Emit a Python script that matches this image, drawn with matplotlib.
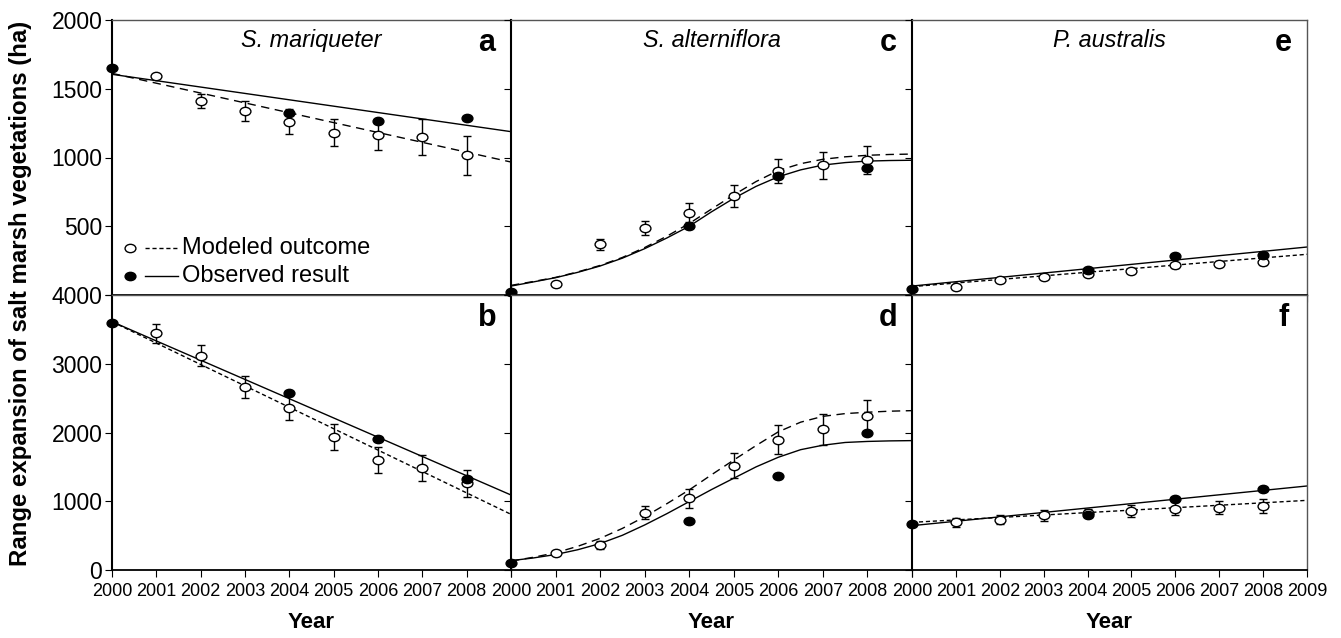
import numpy as np
import matplotlib
matplotlib.use("Agg")
import matplotlib.pyplot as plt
from matplotlib.path import Path
from matplotlib.transforms import Affine2D

plt.rcParams['font.family'] = ['Liberation Sans', 'DejaVu Sans']

# ---------------- data ----------------
years_obs = [2000, 2004, 2006, 2008]
years_mod = [2001, 2002, 2003, 2004, 2005, 2006, 2007, 2008]
years_lin = [2000, 2009]
years_half = [2000, 2000.5, 2001, 2001.5, 2002, 2002.5, 2003, 2003.5, 2004, 2004.5,
              2005, 2005.5, 2006, 2006.5, 2007, 2007.5, 2008, 2008.5, 2009]
xtick_years = [2000, 2001, 2002, 2003, 2004, 2005, 2006, 2007, 2008, 2009]

# a: S. mariqueter (upper)
a_obs = [1653, 1326, 1263, 1285]
a_mod = [1593, 1411, 1338, 1261, 1181, 1166, 1149, 1016]
a_err = [15, 50, 75, 90, 100, 110, 130, 140]
a_fit_obs = [1605, 1188]
a_fit_mod = [1612, 967]

# b: S. mariqueter (lower)
b_obs = [3588, 2570, 1905, 1328]
b_mod = [3442, 3117, 2662, 2356, 1934, 1600, 1479, 1260]
b_err = [140, 155, 165, 175, 185, 190, 190, 195]
b_fit_obs = [3612, 1091]
b_fit_mod = [3612, 810]

# c: S. alterniflora (upper)
c_obs = [24, 499, 865, 926]
c_mod = [78, 368, 490, 599, 720, 902, 943, 982]
c_err = [12, 40, 50, 68, 77, 85, 98, 103]
c_fit_obs = [65, 95, 126, 165, 211, 268, 337, 415, 500, 605, 703, 790, 860, 910, 945, 963, 974, 978, 980]
c_fit_mod = [70, 98, 128, 168, 215, 273, 345, 428, 520, 625, 728, 825, 905, 955, 987, 1005, 1016, 1022, 1025]

# d: S. alterniflora (lower)
d_obs = [107, 718, 1372, 1988]
d_mod = [242, 364, 834, 1042, 1517, 1896, 2046, 2240]
d_err = [25, 65, 95, 140, 185, 210, 230, 240]
d_fit_obs = [136, 175, 225, 295, 385, 505, 655, 820, 995, 1170, 1335, 1500, 1640, 1750, 1815, 1855, 1870, 1878, 1882]
d_fit_mod = [130, 185, 250, 345, 460, 605, 775, 965, 1165, 1385, 1600, 1810, 2010, 2150, 2235, 2275, 2295, 2310, 2318]

# e: P. australis (upper)
e_obs = [41, 182, 284, 288]
e_mod = [58, 107, 133, 150, 175, 218, 228, 242]
e_err = [10, 12, 14, 15, 16, 18, 20, 22]
e_fit_obs = [65, 349]
e_fit_mod = [61, 296]

# f: P. australis (lower)
f_obs = [664, 795, 1028, 1178]
f_mod = [693, 732, 795, 824, 858, 892, 907, 931]
f_err = [70, 70, 85, 60, 85, 90, 95, 100]
f_fit_obs = [645, 1222]
f_fit_mod = [693, 1013]

species = ["S. mariqueter", "S. alterniflora", "P. australis"]
letters = [["a", "c", "e"], ["b", "d", "f"]]
legend_labels = ["Modeled outcome", "Observed result"]
ylabel = "Range expansion of salt marsh vegetations (ha)"
xlabel = "Year"

panels = {
    (0, 0): (a_obs, a_mod, a_err, years_lin, a_fit_obs, a_fit_mod, (0, (6, 4))),
    (1, 0): (b_obs, b_mod, b_err, years_lin, b_fit_obs, b_fit_mod, (0, (3, 2))),
    (0, 1): (c_obs, c_mod, c_err, years_half, c_fit_obs, c_fit_mod, (0, (6, 4))),
    (1, 1): (d_obs, d_mod, d_err, years_half, d_fit_obs, d_fit_mod, (0, (6, 4))),
    (0, 2): (e_obs, e_mod, e_err, years_lin, e_fit_obs, e_fit_mod, (0, (3, 2))),
    (1, 2): (f_obs, f_mod, f_err, years_lin, f_fit_obs, f_fit_mod, (0, (3, 2))),
}

# ---------------- figure ----------------
fig = plt.figure(figsize=(13.41, 6.38), dpi=100)
W, H = 1341, 638
col_x = [(112, 511), (511, 912), (912, 1307)]
row_y = [(20, 295), (295, 570)]

ell = Path.unit_circle().transformed(Affine2D().scale(1.3, 1.0))
MS = 7.8

axes = {}
for (r, c), (obs, mod, err, fx, fobs, fmod, dash) in panels.items():
    x0, x1 = col_x[c]
    y0, y1 = row_y[r]
    ax = fig.add_axes([x0 / W, 1 - y1 / H, (x1 - x0) / W, (y1 - y0) / H])
    axes[(r, c)] = ax
    ax.plot(fx, fobs, color='black', lw=1.0, zorder=2)
    ax.plot(fx, fmod, color='black', lw=1.0, linestyle=dash, zorder=2)
    ax.errorbar(years_mod, mod, yerr=err, fmt='none', ecolor='black',
                elinewidth=1.0, capsize=3, capthick=1.0, zorder=3)
    ax.plot(years_mod, mod, linestyle='none', marker=ell, markersize=MS,
            markerfacecolor='white', markeredgecolor='black', markeredgewidth=1.0,
            zorder=4)
    ax.plot(years_obs, obs, linestyle='none', marker=ell, markersize=MS,
            markerfacecolor='black', markeredgecolor='black', zorder=5,
            clip_on=False)
    ax.set_xlim(2000, 2009)
    if r == 0:
        ax.set_ylim(0, 2000)
        ax.set_yticks([0, 500, 1000, 1500, 2000])
        ax.set_yticklabels(["", "500", "1000", "1500", "2000"])
        ax.set_xticks(xtick_years)
        ax.set_xticklabels([])
    else:
        ax.set_ylim(0, 4000)
        ax.set_yticks([0, 1000, 2000, 3000, 4000])
        ax.set_yticklabels(["0", "1000", "2000", "3000", "4000"])
        ax.set_xticks(xtick_years)
        labs = [str(y) for y in xtick_years]
        if c < 2:
            labs[-1] = ""
        ax.set_xticklabels(labs)
    ax.tick_params(axis='y', direction='out', length=5, width=0.8,
                   labelsize=16.5, pad=2, right=False)
    ax.tick_params(axis='x', direction='out', length=5, width=0.8,
                   labelsize=13, pad=4, top=False)
    if c > 0:
        ax.set_yticklabels([])
    for s in ax.spines.values():
        s.set_color('#555555')
        s.set_linewidth(1.0)
    ax.spines['left'].set_color('black')
    ax.spines['left'].set_linewidth(1.5)
    ax.spines['bottom'].set_color('black')
    ax.spines['bottom'].set_linewidth(1.3)
    ax.text(0.94, 0.915, letters[r][c], transform=ax.transAxes, ha='center',
            va='center', fontsize=22, fontweight='bold')
    if r == 0:
        ax.text(0.5, 0.925, species[c], transform=ax.transAxes, ha='center',
                va='center', fontsize=16.8, style='italic')
    else:
        ax.text(0.5, -0.19, xlabel, transform=ax.transAxes, ha='center',
                va='center', fontsize=16, fontweight='bold')

# legend in panel a (marker first, then line, as in the original key)
axl = axes[(0, 0)]
leg_rows = [(0.17, 'white', (0, (3, 2))), (0.068, 'black', '-')]
for (yy, fc, ls), lab in zip(leg_rows, legend_labels):
    axl.plot([0.045], [yy], transform=axl.transAxes, marker=ell, markersize=MS,
             markerfacecolor=fc, markeredgecolor='black', linestyle='none')
    axl.plot([0.083, 0.165], [yy, yy], transform=axl.transAxes, color='black',
             lw=1.0, linestyle=ls)
    axl.text(0.175, yy, lab, transform=axl.transAxes, ha='left', va='center',
             fontsize=17)

fig.text(21 / W, 1 - 293 / H, ylabel, rotation=90, ha='center',
         va='center', fontsize=17.3, fontweight='bold')

fig.savefig("out.png", dpi=100)
